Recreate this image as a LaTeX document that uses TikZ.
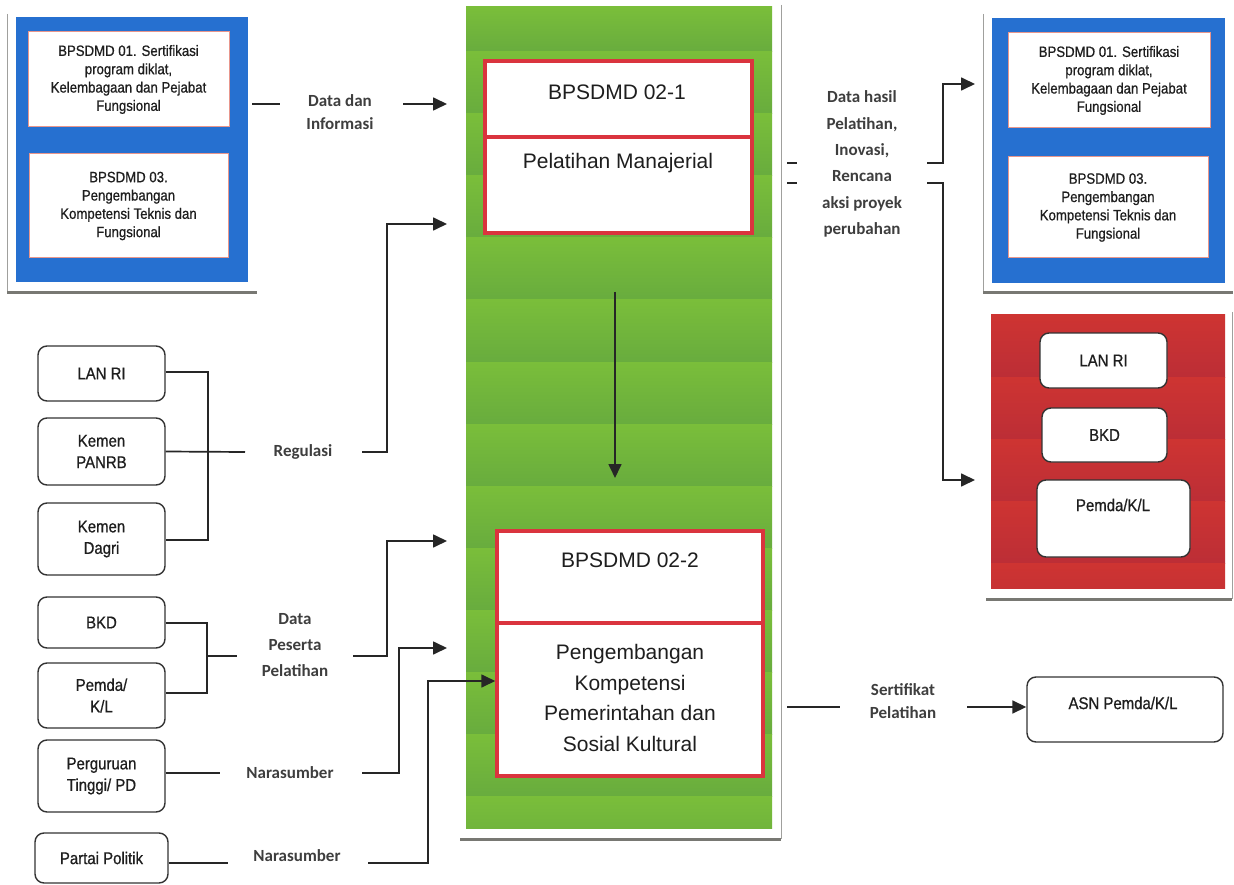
\documentclass[tikz,border=0pt]{standalone}
\usepackage{fontspec}
\setmainfont{Liberation Sans}
\newfontfamily\narrowf[FakeStretch=0.88,FakeBold=0.7]{Liberation Sans}
\newfontfamily\arialf{Liberation Sans}
\newfontfamily\calf{Carlito}
\usetikzlibrary{arrows.meta}
\definecolor{bluec}{RGB}{38,112,208}
\definecolor{gl}{RGB}{122,190,58}
\definecolor{gd}{RGB}{104,172,62}
\definecolor{rl}{RGB}{206,52,50}
\definecolor{rd}{RGB}{188,46,54}
\definecolor{redb}{RGB}{218,52,62}
\definecolor{pinkb}{RGB}{232,150,140}
\definecolor{labc}{RGB}{62,62,62}
\definecolor{txtc}{RGB}{30,30,30}
\definecolor{shadc}{RGB}{120,120,115}
\begin{document}
\begin{tikzpicture}[x=1pt,y=-1pt,
  conn/.style={line width=1.7pt, draw=black!85},
  arr/.style={conn, -{Triangle[length=14pt,width=13pt]}},
  lab/.style={font=\calf\bfseries\fontsize{17}{24}\selectfont, text=labc, align=center, inner sep=0pt},
  inbox/.style={draw=pinkb, line width=1pt, fill=white, inner sep=0pt, align=center, text=txtc,
                font=\narrowf\fontsize{15}{18.3}\selectfont},
  rbox/.style={draw=black!80, line width=1.4pt, rounded corners=9pt, fill=white, inner sep=0pt,
               align=center, text=txtc, font=\narrowf\fontsize{17}{21.5}\selectfont},
  bigbox/.style={draw=redb, line width=3.5pt, fill=white, inner sep=0pt},
  bigtxt/.style={font=\arialf\fontsize{21}{30.5}\selectfont, text=txtc, align=center, inner sep=0pt},
  shthin/.style={draw=shadc!70, line width=0.8pt},
  shthick/.style={draw=shadc, line width=3pt}
]
\useasboundingbox[fill=white] (0,0) rectangle (1234,885);

% ---------- frame shadows ----------
\draw[shthin] (7,14) -- (7,292);
\draw[shthick] (7,293) -- (257,293);
\draw[shthin] (983,14) -- (983,292);
\draw[shthick] (983,293) -- (1233,293);
\draw[shthin] (781,5) -- (781,839);
\draw[shthick] (460,839) -- (781,839);
\draw[shthin] (1232,312) -- (1232,599);
\draw[shthick] (986,599) -- (1232,599);

% ---------- left blue container ----------
\node[fill=bluec, minimum width=232pt, minimum height=265pt, inner sep=0pt] (blueL) at (132,149.5) {};
\node[inbox, minimum width=201pt, minimum height=95pt] (L1) at (128.5,79.5)
  {BPSDMD 01. Sertifikasi\\program diklat,\\Kelembagaan dan Pejabat\\Fungsional};
\node[inbox, minimum width=199pt, minimum height=104pt] (L2) at (128.5,206)
  {BPSDMD 03.\\Pengembangan\\Kompetensi Teknis dan\\Fungsional};

% ---------- right blue container ----------
\node[fill=bluec, minimum width=233pt, minimum height=265pt, inner sep=0pt] (blueR) at (1108.5,150.5) {};
\node[inbox, minimum width=202pt, minimum height=95pt] (R1) at (1109,80.5)
  {BPSDMD 01. Sertifikasi\\program diklat,\\Kelembagaan dan Pejabat\\Fungsional};
\node[inbox, minimum width=200pt, minimum height=101pt] (R2) at (1108,207.5)
  {BPSDMD 03.\\Pengembangan\\Kompetensi Teknis dan\\Fungsional};

% ---------- green column ----------
\node[fill=gl, minimum width=306pt, minimum height=821pt, inner sep=0pt] (green) at (619,417.5) {};
\begin{scope}
  \clip (466,7) rectangle (772,828);
  \shade[top color=gl, bottom color=gd] (466,7) rectangle (772,52);
  \foreach \a in {52,114,...,796}{
    \shade[top color=gl, bottom color=gd] (466,\a) rectangle (772,\a+62);
  }
\end{scope}

% box 02-1
\node[bigbox, minimum width=267pt, minimum height=172pt] (b21) at (618.5,147) {};
\draw[draw=redb, line width=3.5pt] (b21.west |- 0,137) -- (b21.east |- 0,137);
\node[bigtxt] (b21t) at (617,92) {BPSDMD 02-1};
\node[bigtxt] (b21s) at (618,163) {Pelatihan Manajerial};

% box 02-2
\node[bigbox, minimum width=266pt, minimum height=245pt] (b22) at (630,653.5) {};
\draw[draw=redb, line width=3.5pt] (b22.west |- 0,623) -- (b22.east |- 0,623);
\node[bigtxt] (b22t) at (630,560) {BPSDMD 02-2};
\node[bigtxt] (b22s) at (630,698) {Pengembangan\\Kompetensi\\Pemerintahan dan\\Sosial Kultural};

\coordinate (dtop) at (615,292);
\coordinate (dbot) at (615,478);
\draw[arr] (dtop) -- (dbot);

% ---------- red container ----------
\node[fill=rl, minimum width=234pt, minimum height=273pt, inner sep=0pt] (redc) at (1108,451.5) {};
\begin{scope}
  \clip (991,315) rectangle (1225,588);
  \foreach \a in {315,377,...,563}{
    \shade[top color=rl, bottom color=rd] (991,\a) rectangle (1225,\a+62);
  }
\end{scope}
\node[rbox, minimum width=127pt, minimum height=55pt] (rLAN) at (1103.5,360.5) {LAN RI};
\node[rbox, minimum width=125pt, minimum height=54pt] (rBKD) at (1104.5,435) {BKD};
\node[rbox, minimum width=153pt, minimum height=77pt] (rPem) at (1113.5,518.5) {};
\node[font=\narrowf\fontsize{17}{21}\selectfont, text=txtc, inner sep=0pt] (rPemT) at (1113,505) {Pemda/K/L};

% ---------- ASN ----------
\node[rbox, minimum width=196pt, minimum height=65pt] (asn) at (1125,709.5) {};
\node[font=\narrowf\fontsize{17}{21}\selectfont, text=txtc, inner sep=0pt] (asnT) at (1123,703) {ASN Pemda/K/L};

% ---------- left nodes ----------
\node[rbox, minimum width=127pt, minimum height=55pt] (lan) at (101.5,373.5) {LAN RI};
\node[rbox, minimum width=127pt, minimum height=67pt] (panrb) at (101.5,451.5) {Kemen\\PANRB};
\node[rbox, minimum width=127pt, minimum height=72pt] (dagri) at (101.5,539) {Kemen\\Dagri};
\node[rbox, minimum width=127pt, minimum height=51pt] (bkd) at (101.5,622.5) {BKD};
\node[rbox, minimum width=127pt, minimum height=65pt] (pemda) at (101.5,695.5) {Pemda/\\K/L};
\node[rbox, minimum width=127pt, minimum height=72pt] (pt) at (101.5,776) {Perguruan\\Tinggi/ PD};
\node[rbox, minimum width=133pt, minimum height=50pt] (pp) at (101.5,858) {Partai Politik};

% ---------- labels ----------
\node[lab, font=\calf\bfseries\fontsize{17}{23}\selectfont] (ldi) at (340,112.5) {Data dan\\Informasi};
\node[lab] (lreg) at (303,452) {Regulasi};
\node[lab, font=\calf\bfseries\fontsize{17}{26}\selectfont] (ldp) at (295,645) {Data\\Peserta\\Pelatihan};
\node[lab] (lnar1) at (290,773) {Narasumber};
\node[lab] (lnar2) at (297,856) {Narasumber};
\node[lab, font=\calf\bfseries\fontsize{17}{26.4}\selectfont] (ldh) at (862,164) {Data hasil\\Pelatihan,\\Inovasi,\\Rencana\\aksi proyek\\perubahan};
\node[lab, font=\calf\bfseries\fontsize{17}{23}\selectfont] (lsert) at (903,701.5) {Sertifikat\\Pelatihan};

% ---------- connectors ----------
% Data dan Informasi
\coordinate (ddiA) at (252,104);
\coordinate (ddiB) at (280,104);
\coordinate (ddiC) at (403,104);
\coordinate (ddiD) at (447,104);
\draw[conn] (ddiA) -- (ddiB);
\draw[arr] (ddiC) -- (ddiD);

% Regulasi
\coordinate (regX) at (208,452);
\draw[conn] (lan.east |- 0,372) -| (regX) |- (dagri.east |- 0,540);
\coordinate (regS) at (245,452);
\draw[conn] (panrb.east) -- (regS);
\coordinate (regA) at (362,452);
\coordinate (regT) at (447,224);
\draw[arr] (regA) -- (387,452) |- (regT);

% Data Peserta Pelatihan
\coordinate (dpX) at (207,656);
\draw[conn] (bkd.east |- 0,623) -| (dpX) |- (pemda.east |- 0,693);
\coordinate (dpS) at (237,656);
\draw[conn] (dpX) -- (dpS);
\coordinate (dpA) at (353,656);
\coordinate (dpT) at (447,541);
\draw[arr] (dpA) -- (387,656) |- (dpT);

% Narasumber 1
\coordinate (n1S) at (220,773);
\draw[conn] (pt.east |- 0,773) -- (n1S);
\coordinate (n1A) at (362,773);
\coordinate (n1T) at (447,648);
\draw[arr] (n1A) -- (399,773) |- (n1T);

% Narasumber 2
\coordinate (n2S) at (228,863);
\draw[conn] (pp.east |- 0,863) -- (n2S);
\coordinate (n2A) at (368,863);
\draw[arr] (n2A) -- (428,863) |- (b22.west |- 0,681);

% Data hasil
\coordinate (dh1a) at (787,163);
\coordinate (dh1b) at (797,163);
\coordinate (dh2a) at (787,183);
\coordinate (dh2b) at (797,183);
\draw[conn] (dh1a) -- (dh1b);
\draw[conn] (dh2a) -- (dh2b);
\coordinate (dhA) at (927,163);
\coordinate (dhT1) at (975,84);
\draw[arr] (dhA) -- (943,163) |- (dhT1);
\coordinate (dhB) at (927,183);
\coordinate (dhT2) at (975,480);
\draw[arr] (dhB) -- (943,183) |- (dhT2);

% Sertifikat
\coordinate (seA) at (787,707);
\coordinate (seB) at (840,707);
\coordinate (seC) at (967,707);
\draw[conn] (seA) -- (seB);
\draw[arr] (seC) -- (asn.west |- 0,707);
\end{tikzpicture}
\end{document}
